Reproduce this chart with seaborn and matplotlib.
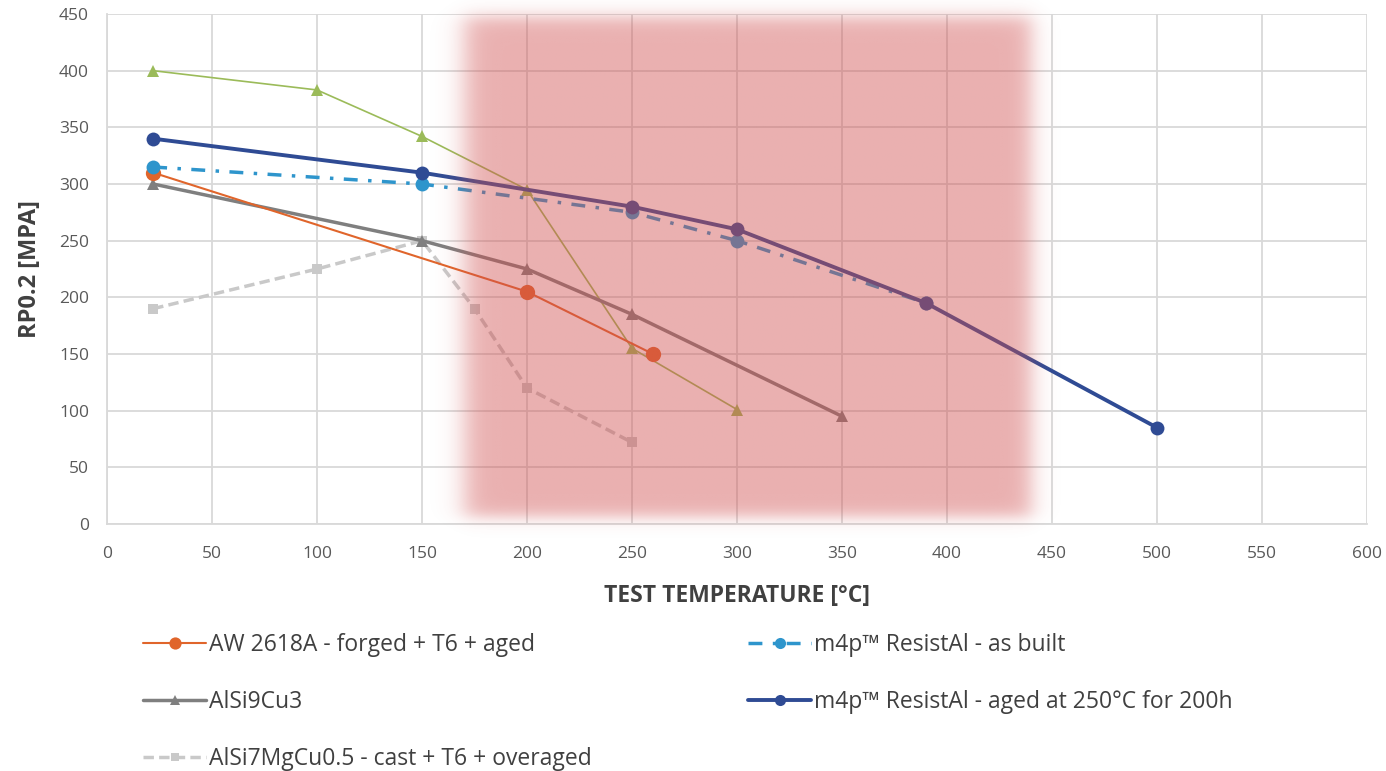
import numpy as np
import matplotlib
matplotlib.use("Agg")
import matplotlib.pyplot as plt
import seaborn as sns

# data
aw2618_t = [22, 200, 260]
aw2618_rp = [310, 205, 150]

asbuilt_t = [22, 150, 250, 300, 390]
asbuilt_rp = [315, 300, 275, 250, 195]

alsi9_t = [22, 150, 200, 250, 350]
alsi9_rp = [300, 250, 225, 185, 95]

aged_t = [22, 150, 250, 300, 390, 500]
aged_rp = [340, 310, 280, 260, 195, 85]

alsi7_t = [22, 100, 150, 175, 200, 250]
alsi7_rp = [190, 225, 250, 190, 120, 72]

olive_t = [22, 100, 150, 200, 250, 300]
olive_rp = [400, 383, 342, 295, 155, 101]

sns.set_style("white")
plt.rcParams["font.family"] = ["Open Sans", "DejaVu Sans"]

fig = plt.figure(figsize=(13.86, 7.71), dpi=100)
ax = fig.add_axes([0.0772, 0.3204, 0.9091, 0.6614])

grid_c = "#D9D9D9"

# series
sns.lineplot(x=olive_t, y=olive_rp, ax=ax, color="#9BBB59", lw=1.2,
             marker="^", markersize=9, markeredgewidth=0, sort=False, zorder=3)
sns.lineplot(x=alsi7_t, y=alsi7_rp, ax=ax, color="#C9C9C9", lw=2.5,
             dashes=(3, 1.5), marker="s", markersize=7, markeredgewidth=0,
             sort=False, label="AlSi7MgCu0.5 - cast + T6 + overaged", zorder=3)
sns.lineplot(x=alsi9_t, y=alsi9_rp, ax=ax, color="#7F7F7F", lw=2.5,
             marker="^", markersize=9, markeredgewidth=0, sort=False,
             label="AlSi9Cu3", zorder=3)
sns.lineplot(x=aw2618_t, y=aw2618_rp, ax=ax, color="#E0652B", lw=1.5,
             marker="o", markersize=11, markeredgewidth=0, sort=False,
             label="AW 2618A - forged + T6 + aged", zorder=3)
sns.lineplot(x=asbuilt_t, y=asbuilt_rp, ax=ax, color="#2E95CC", lw=2.5,
             dashes=(4, 3, 1, 3), marker="o", markersize=10, markeredgewidth=0,
             sort=False, label="m4p\u2122 ResistAl - as built", zorder=3)
sns.lineplot(x=aged_t, y=aged_rp, ax=ax, color="#2F4B94", lw=2.8,
             marker="o", markersize=10, markeredgewidth=0, sort=False,
             label="m4p\u2122 ResistAl - aged at 250\u00b0C for 200h", zorder=4)

# soft red band
xs = np.linspace(130, 480, 400)
ys = np.linspace(-30, 475, 400)
X, Y = np.meshgrid(xs, ys)
mask = (0.5 * (1 + np.tanh((X - 170) / 7)) * 0.5 * (1 - np.tanh((X - 440) / 6))
        * 0.5 * (1 + np.tanh((Y - 6) / 8)) * 0.5 * (1 - np.tanh((Y - 448) / 9)))
rgba = np.zeros(X.shape + (4,))
rgba[..., 0] = 208 / 255
rgba[..., 1] = 79 / 255
rgba[..., 2] = 79 / 255
rgba[..., 3] = 0.45 * mask
ax.imshow(rgba, extent=[130, 480, -30, 475], origin="lower", aspect="auto",
          interpolation="bilinear", zorder=6, clip_on=False)

ax.set_xlim(0, 600)
ax.set_ylim(0, 450)
ax.set_xticks(range(0, 601, 50))
ax.set_yticks(range(0, 451, 50))
ax.grid(True, color=grid_c, lw=1.3)
ax.set_axisbelow(True)
for s in ["top", "right"]:
    ax.spines[s].set_visible(False)
for s in ["left", "bottom"]:
    ax.spines[s].set_color(grid_c)
    ax.spines[s].set_linewidth(1.3)
ax.tick_params(axis="both", length=0, labelsize=12.5, labelcolor="#595959", pad=13)
ax.tick_params(axis="x", pad=16)

ax.set_xlabel("TEST TEMPERATURE [\u00b0C]", fontsize=16.5, fontweight="bold",
              color="#404040", labelpad=16)
ax.set_ylabel("RP0.2 [MPA]", fontsize=17, fontweight="bold",
              color="#404040", labelpad=12)

# legend in two blocks below the plot
h, l = ax.get_legend_handles_labels()
lookup = dict(zip(l, h))
ax.get_legend().remove()
col1 = ["AW 2618A - forged + T6 + aged", "AlSi9Cu3",
        "AlSi7MgCu0.5 - cast + T6 + overaged"]
col2 = ["m4p\u2122 ResistAl - as built",
        "m4p\u2122 ResistAl - aged at 250\u00b0C for 200h"]
leg_kw = dict(frameon=False, fontsize=16.5, handlelength=2.75, handletextpad=0.12,
              labelspacing=1.45, borderpad=0, borderaxespad=0, markerscale=0.8,
              labelcolor="#404040")
fig.legend([lookup[k] for k in col1], col1, loc="upper left",
           bbox_to_anchor=(143 / 1386, 1 - 633 / 771), **leg_kw)
fig.legend([lookup[k] for k in col2], col2, loc="upper left",
           bbox_to_anchor=(748 / 1386, 1 - 633 / 771), **leg_kw)

fig.savefig("out.png", dpi=100)
